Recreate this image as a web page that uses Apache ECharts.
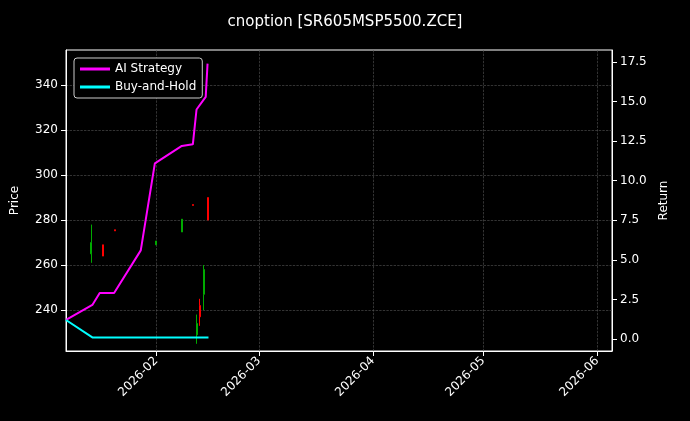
<!DOCTYPE html>
<html>
<head>
<meta charset="utf-8">
<script src="https://cdn.jsdelivr.net/npm/echarts@6/dist/echarts.min.js"></script>
<style>body{margin:0;background:#000}#main{width:690px;height:421px}</style>
</head>
<body>
<div id="main"></div>
<script>
// candles: [date, open, close, low, high]
var candles = [
  ['2026-01-14 10:00', 270, 265, 261, 278],
  ['2026-01-17 12:00', 264, 269, 264, 269],
  ['2026-01-20 20:00', 275.2, 275.7, 275.2, 275.7],
  ['2026-02-01', 270.7, 269, 269, 270.7],
  ['2026-02-08', 280.4, 274.7, 274.7, 280.4],
  ['2026-02-11', 286.5, 286.9, 286.5, 286.9],
  ['2026-02-12', 234, 229, 225, 238],
  ['2026-02-13', 237, 242, 233, 245],
  ['2026-02-14', 258, 247, 240, 260],
  ['2026-02-15', 280, 290, 280, 290]
];
var strategy = [
  ['2026-01-07 12:00', 1.2], ['2026-01-14 16:00', 2.15], ['2026-01-16 16:00', 2.9],
  ['2026-01-20 14:00', 2.9], ['2026-01-27 20:00', 5.6], ['2026-01-31 16:00', 11.1],
  ['2026-02-08', 12.2], ['2026-02-11', 12.3], ['2026-02-12', 14.5],
  ['2026-02-14 12:00', 15.3], ['2026-02-15', 17.4]
];
var buyHold = [
  ['2026-01-07 12:00', 1.2], ['2026-01-14 16:00', 0.1], ['2026-02-15 06:00', 0.1]
];
var priceTicks = [240, 260, 280, 300, 320, 340];
var returnTicks = [0, 2.5, 5, 7.5, 10, 12.5, 15, 17.5];

var myChart = echarts.init(document.getElementById('main'));
var grid = { type: 'dashed', color: '#555', width: 0.6 };
var option = {
  backgroundColor: '#000',
  animation: false,
  title: {
    text: 'cnoption [SR605MSP5500.ZCE]', left: 'center', top: 10,
    textStyle: { color: '#fff', fontSize: 15, fontWeight: 'normal', fontFamily: 'DejaVu Sans' }
  },
  legend: {
    left: 74, top: 58, orient: 'vertical', itemGap: 6,
    backgroundColor: '#000', borderColor: '#ccc', borderWidth: 1, borderRadius: 3, padding: [5, 6],
    itemWidth: 30, itemHeight: 3,
    textStyle: { color: '#fff', fontSize: 12, fontFamily: 'DejaVu Sans' },
    data: [
      { name: 'AI Strategy', icon: 'rect', itemStyle: { color: '#ff00ff' } },
      { name: 'Buy-and-Hold', icon: 'rect', itemStyle: { color: '#00ffff' } }
    ]
  },
  grid: { left: 66, right: 78, top: 50, bottom: 70, show: true, borderColor: '#fff', borderWidth: 1 },
  xAxis: {
    type: 'time', min: '2026-01-07 12:00', max: '2026-06-05',
    axisLine: { onZero: false, lineStyle: { color: '#fff' } },
    axisTick: { lineStyle: { color: '#fff' } },
    axisLabel: {
      color: '#fff', rotate: 45, fontSize: 12, fontFamily: 'DejaVu Sans',
      formatter: function (v) { var d = new Date(v); return d.getFullYear() + '-' + String(d.getMonth() + 1).padStart(2, '0'); }
    },
    minInterval: 28 * 86400000,
    splitLine: { show: true, lineStyle: grid }
  },
  yAxis: [
    {
      type: 'value', name: 'Price', nameLocation: 'middle', nameGap: 45,
      nameTextStyle: { color: '#fff', fontSize: 12, fontFamily: 'DejaVu Sans' },
      min: 221.8, max: 355.6,
      axisLine: { show: true, lineStyle: { color: '#fff' } },
      axisLabel: { color: '#fff', fontSize: 12, fontFamily: 'DejaVu Sans', customValues: priceTicks },
      axisTick: { show: true, customValues: priceTicks },
      splitLine: { show: true, lineStyle: grid }
    },
    {
      type: 'value', name: 'Return', nameLocation: 'middle', nameGap: 42,
      nameTextStyle: { color: '#fff', fontSize: 12, fontFamily: 'DejaVu Sans' },
      min: -0.76, max: 18.26,
      axisLine: { show: true, lineStyle: { color: '#fff' } },
      axisTick: { show: true, customValues: returnTicks },
      axisLabel: {
        color: '#fff', fontSize: 12, fontFamily: 'DejaVu Sans',
        customValues: returnTicks,
        formatter: function (v) { return v.toFixed(1); }
      },
      splitLine: { show: false }
    }
  ],
  series: [
    {
      type: 'candlestick', yAxisIndex: 0, barWidth: 1.5,
      itemStyle: { color: '#ff0000', color0: '#00aa00', borderColor: '#ff0000', borderColor0: '#00aa00', borderWidth: 1 },
      data: candles
    },
    {
      name: 'AI Strategy', type: 'line', yAxisIndex: 1, symbol: 'none',
      lineStyle: { color: '#ff00ff', width: 2 }, itemStyle: { color: '#ff00ff' }, data: strategy
    },
    {
      name: 'Buy-and-Hold', type: 'line', yAxisIndex: 1, symbol: 'none',
      lineStyle: { color: '#00ffff', width: 2 }, itemStyle: { color: '#00ffff' }, data: buyHold
    }
  ]
};
option && myChart.setOption(option);
</script>
</body>
</html>
